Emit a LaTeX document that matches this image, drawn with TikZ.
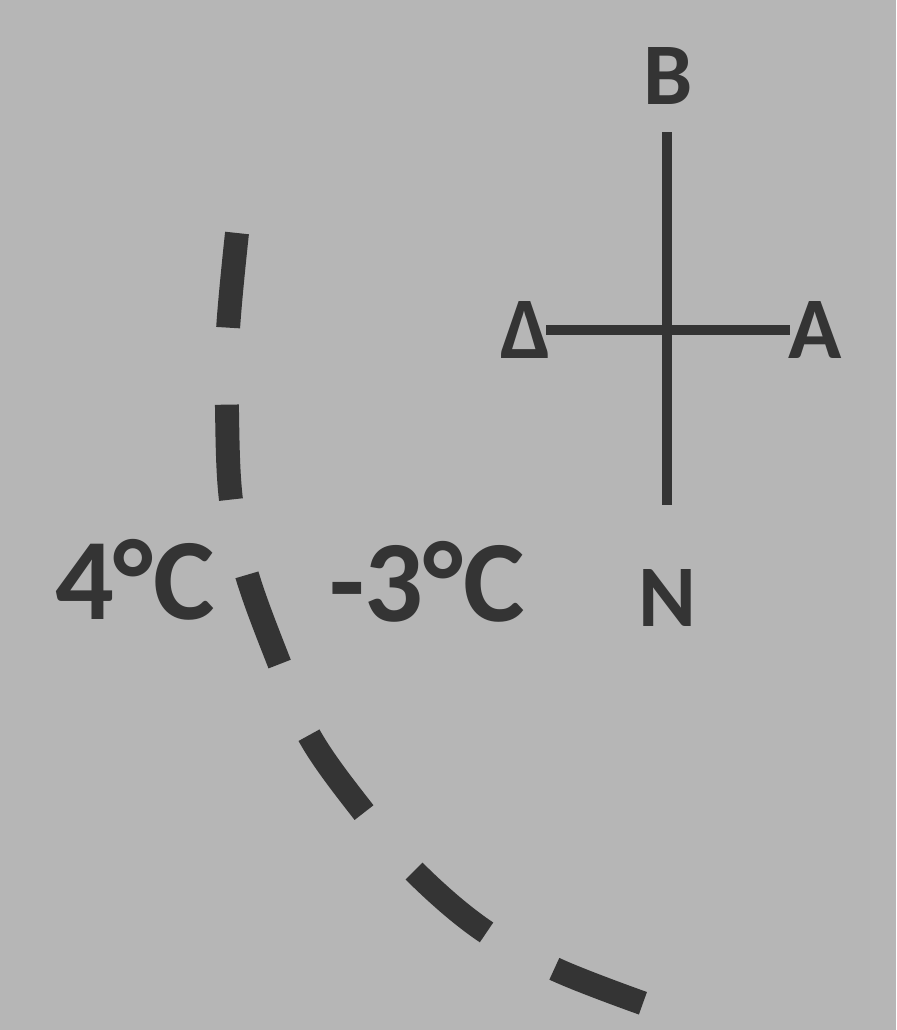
\documentclass[tikz,border=0pt]{standalone}
\usepackage{fontspec}
\setmainfont{Carlito}
\usetikzlibrary{positioning}

\definecolor{paper}{RGB}{182,182,182}
\definecolor{ink}{RGB}{52,52,52}

\begin{document}
\begin{tikzpicture}
[
  x=0.01cm, y=-0.01cm,
  compass/.style={text=ink, inner sep=0pt, font=\fontsize{25pt}{25pt}\selectfont\bfseries},
  temp/.style={text=ink, inner sep=0pt, font=\fontsize{33pt}{33pt}\selectfont\bfseries},
  axis/.style={draw=ink, line width=2.6pt},
  front/.style={draw=ink, line width=6.8pt, line cap=butt, dash pattern=on 0.95cm off 0.77cm}
]
  % paper
  \fill[paper] (0,0) rectangle (896,1030);
  \useasboundingbox (0,0) rectangle (896,1030);

  % compass
  \node[compass] (north) at (668,76) {B};
  \node[compass] (south) at (667,598) {N};
  \node[compass] (west) at (526,330) {Δ};
  \node[compass] (east) at (815,330) {A};

  \coordinate (top) at (667,132);
  \coordinate (bottom) at (667,505);
  \coordinate (left) at (546,330);
  \coordinate (right) at (790,330);

  \draw[axis] (top) -- (bottom);
  \draw[axis] (left) -- (right);

  % temperatures
  \node[temp] (warm) at (135,580) {4°C};
  \node[temp] (cold) at (427,582) {-3°C};

  % front line
  \draw[front] plot[smooth, tension=0.6] coordinates {
    (237,233) (228,330) (227,410) (231,500) (247,575) (280,665)
    (310,737) (362,810) (415,872) (483,930) (557,970) (645,1004)
  };
\end{tikzpicture}
\end{document}
